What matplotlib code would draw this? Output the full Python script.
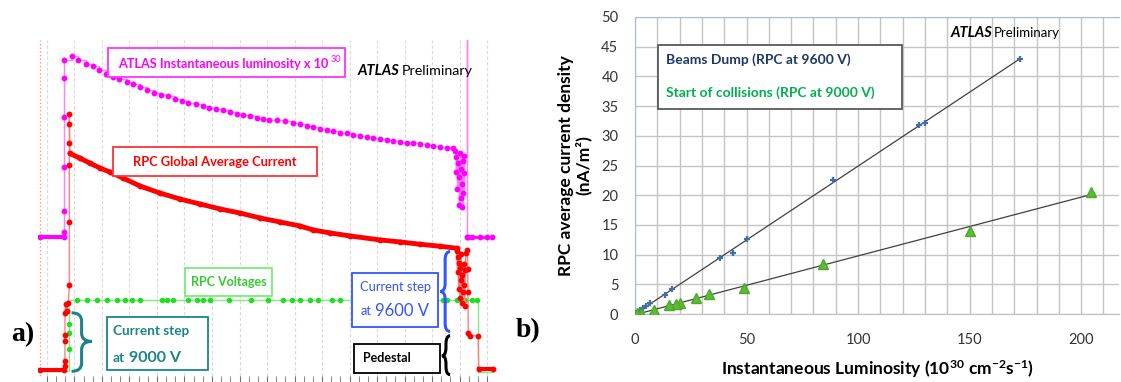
import matplotlib.pyplot as plt
import numpy as np
from matplotlib.patches import Rectangle, PathPatch
from matplotlib.path import Path
from matplotlib.ticker import MultipleLocator

plt.rcParams['font.family'] = ['Lato', 'DejaVu Sans']
plt.rcParams['mathtext.fontset'] = 'custom'
plt.rcParams['mathtext.rm'] = 'Lato:bold'
plt.rcParams['mathtext.default'] = 'rm'

# a) fill history: time in hours, vertical scale in arbitrary units
lum_t = [0.0, 0.88, 0.88, 0.88, 0.88, 0.88, 0.88, 0.88, 1.17, 1.39, 1.66, 1.92,
         2.16, 2.40, 2.64, 2.88, 3.15, 3.39, 3.64, 3.88, 4.15, 4.40, 4.64, 4.91,
         5.15, 5.39, 5.66, 5.92, 6.16, 6.40, 6.64, 6.91, 7.15, 7.39, 7.64, 7.88,
         8.12, 8.34, 8.61, 8.91, 9.21, 9.45, 9.70, 9.94, 10.18, 10.42, 10.66,
         10.91, 11.15, 11.39, 11.64, 11.88, 12.12, 12.36, 12.61, 12.85, 13.09,
         13.33, 13.57, 13.82, 14.06, 14.30, 14.55, 14.79, 15.03,
         15.08, 15.11, 15.14, 15.17, 15.20, 15.22, 15.25, 15.27, 15.29, 15.31,
         15.33, 15.35, 15.37, 15.39, 15.41, 15.43,
         15.53, 15.53, 15.57, 15.70, 16.00, 16.24, 16.45]
lum_y = [40.8, 40.8, 42.4, 48.6, 61.8, 76.9, 88.5, 94.1, 95.1, 94.1, 92.9, 92.1,
         90.9, 89.7, 88.9, 88.2, 87.4, 86.7, 85.9, 85.1, 84.2, 83.6, 83.1, 82.4,
         81.7, 81.1, 80.7, 80.1, 79.6, 79.2, 78.9, 78.4, 77.9, 77.4, 77.1, 76.7,
         76.4, 76.1, 75.9, 75.6, 75.1, 74.7, 74.2, 73.9, 73.2, 72.9, 72.6,
         72.1, 71.9, 71.4, 71.1, 70.9, 70.4, 70.1, 69.9, 69.6, 69.3,
         69.1, 68.9, 68.6, 68.3, 68.0, 67.8, 67.5, 67.4,
         66.5, 60.2, 64.8, 55.1, 62.9, 50.3, 58.7, 65.9, 52.4, 61.1,
         56.6, 49.8, 63.5, 54.0, 59.9, 65.2,
         110.0, 40.8, 40.8, 40.8, 40.8, 40.8, 40.8]

cur_t = [0.0, 0.87, 0.91, 0.91, 0.91, 0.91, 0.91, 0.93, 0.97, 1.03,
         1.07, 1.07, 1.07, 1.07, 1.07, 1.07,
         1.09, 1.45, 1.82, 2.18, 2.55, 3.02, 3.64, 4.36, 5.09, 5.82, 6.55, 7.27,
         8.00, 8.73, 9.45, 9.93, 10.55, 11.27, 12.36, 13.09, 13.82, 14.55, 15.16,
         15.15, 15.18, 15.20, 15.22, 15.24, 15.26, 15.28, 15.30, 15.32, 15.34,
         15.36, 15.38, 15.40, 15.42, 15.44, 15.46, 15.48,
         15.54, 15.55, 15.56, 15.57, 15.62, 15.93, 15.95, 16.47]
cur_y = [0.9, 0.9, 1.9, 3.4, 9.4, 11.4, 17.9, 20.7, 18.4, 20.9,
         26.4, 45.4, 62.4, 68.9, 74.6, 77.9,
         65.9, 64.5, 63.0, 61.5, 60.3, 58.5, 56.1, 54.0, 52.2, 50.7, 49.2, 48.0,
         46.5, 45.3, 44.1, 42.9, 42.0, 41.1, 39.9, 39.3, 38.6, 38.0, 37.4,
         36.5, 30.2, 34.8, 25.1, 33.0, 22.4, 31.5, 27.8, 35.6, 21.0,
         29.4, 24.3, 32.7, 26.5, 20.1, 30.9, 36.0,
         36.9, 31.2, 24.4, 12.0, 11.1, 11.1, 1.2, 1.2]

hv_t = [0.0, 1.05, 1.07, 1.07, 1.07, 1.07, 1.33, 1.70, 2.06, 2.43, 2.79, 3.09,
        3.33, 3.64, 4.43, 4.61, 4.85, 5.39, 5.70, 5.94, 6.18, 6.87, 7.66, 8.30,
        8.85, 9.15, 9.45, 9.82, 10.12, 10.61, 10.91, 14.67, 14.79, 15.15, 15.33,
        15.45, 15.70, 15.88, 15.93, 16.47]
hv_y = [0.4, 0.4, 7.2, 12.0, 14.7, 21.9, 21.9, 21.9, 21.9, 21.9, 21.9, 21.9,
        21.9, 21.9, 21.9, 21.9, 21.9, 21.9, 21.9, 21.9, 21.9, 21.9, 21.9, 21.9,
        21.9, 21.9, 21.9, 21.9, 21.9, 21.9, 21.9, 21.9, 21.9, 21.9, 21.9,
        21.9, 21.9, 21.9, 0.1, 0.1]

# b) RPC current density vs instantaneous luminosity
dump_lumi = [172.4, 130.2, 127.1, 88.9, 50.0, 44.0, 38.3, 16.6, 13.3, 6.6, 5.0, 3.6, 2.1, 0.6]
dump_cur = [42.9, 32.2, 31.8, 22.6, 12.7, 10.2, 9.4, 4.2, 3.2, 1.8, 1.35, 0.96, 0.7, 0.1]
coll_lumi = [204.5, 150.0, 84.4, 48.9, 33.2, 27.5, 20.0, 18.2, 15.2, 8.5, 2.8, 1.0]
coll_cur = [20.6, 14.0, 8.5, 4.3, 3.4, 2.75, 1.8, 1.6, 1.5, 0.7, 0.2, 0.1]


def brace(ax, xb, xt, y0, y1, ym, color):
    xm = (xb + xt) / 2
    d = min(2.5, (y1 - y0) / 4)
    verts = [(xb, y0), (xm, y0), (xm, y0 + d), (xm, ym - d), (xm, ym), (xt, ym),
             (xm, ym), (xm, ym + d), (xm, y1 - d), (xm, y1), (xb, y1)]
    codes = [Path.MOVETO, Path.CURVE3, Path.CURVE3, Path.LINETO, Path.CURVE3, Path.CURVE3,
             Path.CURVE3, Path.CURVE3, Path.LINETO, Path.CURVE3, Path.CURVE3]
    ax.add_patch(PathPatch(Path(verts, codes), fc='none', ec=color, lw=2.2,
                           clip_on=False, zorder=6))


def box(ax, x0, x1, y0, y1, color):
    ax.add_patch(Rectangle((x0, y0), x1 - x0, y1 - y0, fc='white', ec=color, lw=1.3,
                           zorder=5, clip_on=False))


fig = plt.figure(figsize=(11.21, 3.82), dpi=100)

# ---------------- a) ----------------
ax = fig.add_axes([0.0339, 0.0157, 0.4086, 0.8796])
ax.set_xlim(-0.07, 16.58)
ax.set_ylim(-1, 100)
for s in ax.spines.values():
    s.set_visible(False)
ax.xaxis.set_major_locator(MultipleLocator(1, offset=0.255))
ax.xaxis.set_minor_locator(MultipleLocator(1 / 3, offset=0.255))
ax.set_yticks([])
ax.tick_params(axis='x', which='both', length=4, color='#707070', labelbottom=False)
ax.grid(axis='x', which='major', color='#DADADA', lw=0.8, ls=(0, (3, 2)))
ax.axvline(0, color='#FF9090', lw=1, ls=':')

lt, ly = np.array(lum_t), np.array(lum_y)
ct, cy = np.array(cur_t), np.array(cur_y)
ht, hy = np.array(hv_t), np.array(hv_y)

ax.plot(lt, ly, color='#FF7FFF', lw=1, drawstyle='steps-post', zorder=2)
ax.plot(lt[:2], ly[:2], color='#FF00FF', lw=3, zorder=2)
ax.plot(lt[-6:], ly[-6:], color='#FF00FF', lw=2, zorder=2)
ax.plot(lt, ly, 'o', color='#FF00FF', ms=3.2, zorder=3)

ax.plot(ht, hy, color='#7FEF7F', lw=1, drawstyle='steps-post', zorder=2)
ax.plot(ht[6:-2], hy[6:-2], 'o', color='#22DD22', ms=3, zorder=3)
ax.plot(ht[2:5], hy[2:5], 'o', color='#22DD22', ms=3, zorder=3)

ax.plot(ct, cy, color='#FF8080', lw=1, zorder=3)
ax.plot(ct[16:39], cy[16:39], color='#FF0000', lw=3.5, solid_capstyle='round', zorder=3)
ax.plot(ct[:2], cy[:2], color='#FF0000', lw=3, zorder=3)
ax.plot(ct[-2:], cy[-2:], color='#FF0000', lw=3, zorder=3)
ax.plot(ct, cy, 'o', color='#FF0000', ms=3.2, zorder=4)

# annotation boxes
box(ax, 2.47, 11.09, 88.8, 97.5, '#FF33FF')
lum_label = ax.text(2.84, 92.9, 'ATLAS Instantaneous luminosity x 10', color='#FF00FF',
                    fontsize=9.1, fontweight='bold', va='center', zorder=6)
ax.annotate('30', xy=(1, 1), xycoords=lum_label, xytext=(2, -1), textcoords='offset points',
            color='#FF00FF', fontsize=6.5, ha='left', va='center', zorder=6)
ax.text(11.56, 90.6, 'ATLAS', fontsize=10.5, fontweight='bold', style='italic', va='center')
ax.text(13.15, 90.6, 'Preliminary', fontsize=10.3, va='center')

box(ax, 2.65, 10.07, 59.1, 67.8, '#FF3333')
ax.text(6.36, 63.4, 'RPC Global Average Current', color='#FF0000', fontsize=9.3,
        fontweight='bold', ha='center', va='center', zorder=6)

box(ax, 5.27, 8.44, 23.1, 31.5, '#77EE77')
ax.text(6.85, 27.3, 'RPC Voltages', color='#33CC33', fontsize=9,
        fontweight='bold', ha='center', va='center', zorder=6)

teal = '#1B8585'
box(ax, 2.44, 6.11, 0.9, 16.8, teal)
ax.text(2.66, 12.5, 'Current step', color=teal, fontsize=9.8, fontweight='bold',
        va='center', zorder=6)
ax.text(2.66, 4.3, 'at', color=teal, fontsize=9.8, fontweight='bold', va='center', zorder=6)
ax.text(3.24, 4.3, '9000 V', color=teal, fontsize=11.5, fontweight='bold', va='center', zorder=6)
brace(ax, 1.15, 1.88, 0.4, 18.0, 9.4, teal)

blue = '#3355FF'
box(ax, 11.35, 14.47, 13.8, 30.0, blue)
ax.text(11.64, 25.8, 'Current step', color=blue, fontsize=9.3, va='center', zorder=6)
ax.text(11.64, 18.5, 'at', color=blue, fontsize=9.3, va='center', zorder=6)
ax.text(12.18, 18.5, '9600 V', color=blue, fontsize=12, va='center', zorder=6)
brace(ax, 14.91, 14.55, 12.4, 36.4, 24.4, blue)

box(ax, 11.42, 14.55, 0.0, 8.7, 'black')
ax.text(11.73, 4.4, 'Pedestal', color='black', fontsize=9, fontweight='bold',
        va='center', zorder=6)
brace(ax, 14.91, 14.61, -0.6, 11.1, 5.1, 'black')

# ---------------- b) ----------------
ax2 = fig.add_axes([0.5665, 0.178, 0.4318, 0.7775])
ax2.set_xlim(0, 217)
ax2.set_ylim(0, 50)
ax2.xaxis.set_major_locator(MultipleLocator(50))
ax2.xaxis.set_minor_locator(MultipleLocator(10))
ax2.yaxis.set_major_locator(MultipleLocator(5))
ax2.grid(which='both', color='#C4C4C4', lw=1)
ax2.set_axisbelow(True)
ax2.tick_params(which='both', length=0, labelsize=10.5, labelcolor='#333333')
ax2.tick_params(axis='y', pad=12)
ax2.tick_params(axis='x', pad=14)
ax2.spines['right'].set_visible(False)
ax2.spines['top'].set_color('#A9BCD5')
ax2.spines['left'].set_color('#A9BCD5')
ax2.spines['bottom'].set_color('#BFBFBF')

for xs, ys in [(dump_lumi, dump_cur), (coll_lumi, coll_cur)]:
    k, b = np.polyfit(xs, ys, 1)
    xx = np.array([0, max(xs)])
    ax2.plot(xx, k * xx + b, color='#404040', lw=0.9, zorder=2)

ax2.plot(dump_lumi, dump_cur, '+', color='#4170A8', ms=5, mew=1.6, zorder=3)
ax2.plot(coll_lumi, coll_cur, '^', color='#5DBB35', mec='#4CA82A', ms=6.5, zorder=3)

ax2.set_xlabel(r'Instantaneous Luminosity (10$^{30}$ cm$^{-2}$s$^{-1}$)', fontsize=12.5,
               fontweight='bold', labelpad=8)
ax2.set_ylabel('RPC average current density\n(nA/m²)', fontsize=12.5, fontweight='bold',
               labelpad=7, linespacing=1.05)

ax2.add_patch(Rectangle((0.0475, 0.690), 0.5045, 0.216, transform=ax2.transAxes,
                        fc='white', ec='#595959', lw=1.3, zorder=5))
ax2.text(0.064, 0.855, 'Beams Dump (RPC at 9600 V)', transform=ax2.transAxes,
         color='#1F3864', fontsize=10, fontweight='bold', va='center', zorder=6)
ax2.text(0.064, 0.744, 'Start of collisions (RPC at 9000 V)', transform=ax2.transAxes,
         color='#00B050', fontsize=10, fontweight='bold', va='center', zorder=6)
ax2.text(0.651, 0.946, 'ATLAS', transform=ax2.transAxes, fontsize=10.5,
         fontweight='bold', style='italic', va='center')
ax2.text(0.742, 0.946, 'Preliminary', transform=ax2.transAxes, fontsize=9.5, va='center')

fig.text(23 / 1121, 1 - 335 / 382, 'a)', family='Liberation Serif', fontweight='bold',
         fontsize=20, ha='center', va='center')
fig.text(528 / 1121, 1 - 331 / 382, 'b)', family='Liberation Serif', fontweight='bold',
         fontsize=20, ha='center', va='center')

fig.savefig('out.png', dpi=100)
